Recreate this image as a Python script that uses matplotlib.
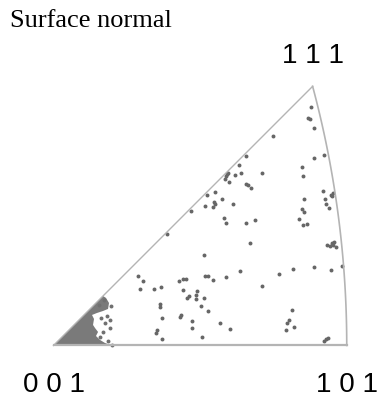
import numpy as np
import matplotlib
matplotlib.use("Agg")
import matplotlib.pyplot as plt

# pole figure points, stereographic coordinates (x, y) in the 001-101-111 triangle
pole_x = [0.3637, 0.3590, 0.3623, 0.3679, 0.3096, 0.3675, 0.3816, 0.2723, 0.2620, 0.3514,
          0.3528, 0.2941, 0.2653, 0.2446, 0.2432, 0.2465, 0.2568, 0.2422, 0.2475, 0.2719,
          0.2747, 0.2785, 0.2164, 0.2281, 0.2384, 0.2271, 0.2281, 0.2531, 0.2136, 0.2257,
          0.3811, 0.3944, 0.3915, 0.3929, 0.3542, 0.3831, 0.3849, 0.3895, 0.3514, 0.3542,
          0.2408, 0.2441, 0.2715, 0.2850, 0.3467, 0.3524, 0.3585, 0.2780, 0.3867, 0.3905,
          0.3929, 0.3962, 0.3990, 0.3944, 0.2126, 0.4079, 0.3684, 0.3915, 0.3379, 0.3185,
          0.2630, 0.2144, 0.2178, 0.2249, 0.2436, 0.2945, 0.2130, 0.2083, 0.2178, 0.3364,
          0.3326, 0.3294, 0.3393, 0.3288, 0.2356, 0.2493, 0.2093, 0.3821, 0.3853, 0.3877,
          0.1942, 0.1607, 0.1198, 0.1268, 0.1218, 0.1424, 0.1514, 0.1768, 0.1825, 0.1871,
          0.1833, 0.2023, 0.2013, 0.1881, 0.1910, 0.2008, 0.1504, 0.1508, 0.1805, 0.1787,
          0.1960, 0.1528, 0.1952, 0.1466, 0.1448, 0.1532]
pole_y = [0.3373, 0.3218, 0.3199, 0.3076, 0.2955, 0.2648, 0.2686, 0.2672, 0.2549, 0.2517,
          0.2398, 0.2441, 0.2441, 0.2418, 0.2394, 0.2432, 0.2408, 0.2347, 0.2305, 0.2277,
          0.2267, 0.2220, 0.2126, 0.2172, 0.2073, 0.2023, 0.1999, 0.2003, 0.1975, 0.1956,
          0.2178, 0.2150, 0.2126, 0.2107, 0.2065, 0.2065, 0.1994, 0.1946, 0.1928, 0.1890,
          0.1801, 0.1734, 0.1730, 0.1773, 0.1791, 0.1702, 0.1712, 0.1452, 0.1419, 0.1405,
          0.1444, 0.1458, 0.1387, 0.1424, 0.1278, 0.1127, 0.1113, 0.1066, 0.1076, 0.1014,
          0.1056, 0.0982, 0.0977, 0.0925, 0.0963, 0.0845, 0.0671, 0.0558, 0.0483, 0.0506,
          0.0360, 0.0314, 0.0261, 0.0219, 0.0318, 0.0233, 0.0120, 0.0068, 0.0092, 0.0102,
          0.1904, 0.1571, 0.0986, 0.0907, 0.0802, 0.0802, 0.0826, 0.0915, 0.0939, 0.0935,
          0.0784, 0.0770, 0.0713, 0.0675, 0.0699, 0.0653, 0.0582, 0.0540, 0.0427, 0.0398,
          0.0346, 0.0384, 0.0247, 0.0219, 0.0181, 0.0096]

# dense cluster near 001 (outline of the saturated region + loose points around it)
cluster_x = [0.0, 0.0699, 0.0742, 0.0784, 0.0770, 0.0699, 0.0614, 0.0544, 0.0572, 0.0558,
             0.0586, 0.0629, 0.0600, 0.0657, 0.0727, 0.0826]
cluster_y = [0.0, 0.0699, 0.0671, 0.0600, 0.0516, 0.0487, 0.0459, 0.0431, 0.0374, 0.0290,
             0.0247, 0.0191, 0.0134, 0.0078, 0.0035, 0.0]
loose_x = [0.0751, 0.0798, 0.0727, 0.0798, 0.0703, 0.0657, 0.0770, 0.0822, 0.0671, 0.0643,
           0.0812, 0.0713]
loose_y = [0.0421, 0.0360, 0.0314, 0.0243, 0.0195, 0.0124, 0.0064, 0.0007, 0.0388, 0.0572,
           0.0558, 0.0643]

corner_labels = ["0 0 1", "1 0 1", "1 1 1"]

# triangle corners in stereographic projection
p001 = (0.0, 0.0)
p101 = (np.sqrt(2) - 1, 0.0)
s3 = 1 / np.sqrt(3)
p111 = (s3 / (1 + s3), s3 / (1 + s3))

fig = plt.figure(figsize=(3.80, 3.98), dpi=100)
ax = fig.add_axes([0, 0, 1, 1])
ax.set_xlim(-0.0756, 0.4612)
ax.set_ylim(-0.0742, 0.4880)
ax.axis('off')

edge = '#b4b4b4'
# great circle between 101 and 111 (plane x = z)
t = np.linspace(0, 1, 100)
n = np.sqrt(2 + t ** 2)
arc_x = (1 / n) / (1 + 1 / n)
arc_y = (t / n) / (1 + 1 / n)
ax.plot(arc_x, arc_y, color=edge, lw=1.2)
ax.plot([p001[0], p101[0]], [p001[1], p101[1]], color=edge, lw=1.6)
ax.plot([p001[0], p111[0]], [p001[1], p111[1]], color=edge, lw=1.0)

ax.fill(cluster_x, cluster_y, color='#7a7a7a', lw=0)
ax.scatter(loose_x, loose_y, s=8, color='#707070', lw=0)
ax.scatter(pole_x, pole_y, s=8, color='#666666', lw=0)

lab_font = dict(family='Liberation Sans', fontsize=20, ha='center', va='baseline')
ax.text(p001[0], -0.0653, corner_labels[0], **lab_font)
ax.text(p101[0], -0.0653, corner_labels[1], **lab_font)
ax.text(p111[0], 0.399, corner_labels[2], **lab_font)

fig.text(10 / 380, 1 - 26.7 / 398, "Surface normal", family='Liberation Serif',
         fontsize=19, ha='left', va='baseline')

fig.savefig('out.png', dpi=100)
